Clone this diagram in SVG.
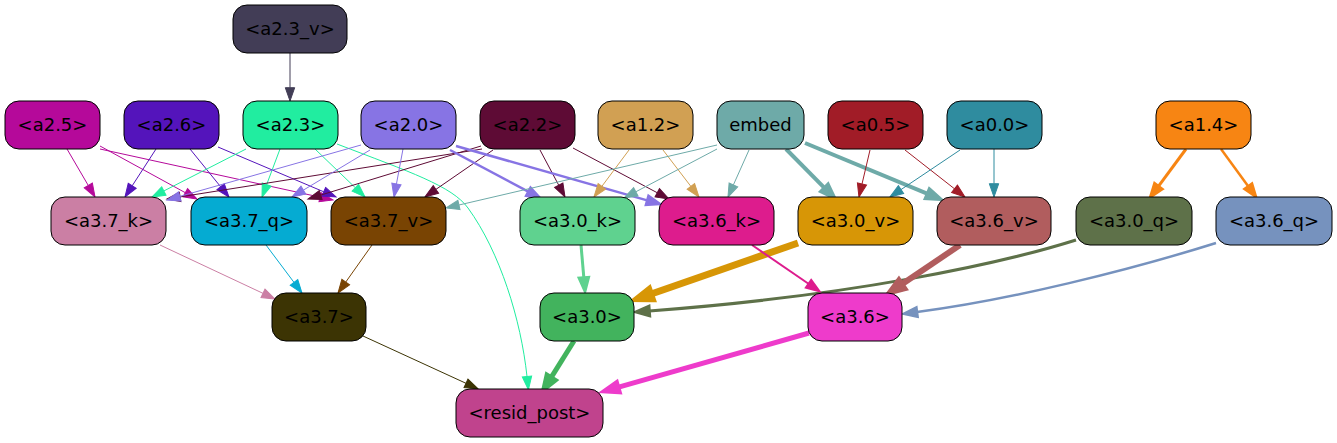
<svg xmlns="http://www.w3.org/2000/svg" width="1337" height="443" viewBox="0 0 1337 443">
<style>
.n rect{stroke:#000;stroke-width:1}
.n text{font-family:"DejaVu Sans","Liberation Sans",sans-serif;font-size:18px;text-anchor:middle;fill:#000}
.e path{fill:none}
</style>
<defs>
<marker id="m23v" markerUnits="userSpaceOnUse" orient="auto" refX="0" refY="4.7" markerWidth="14" markerHeight="10" overflow="visible"><path d="M0,0L13.3,4.7L0,9.4z" fill="#423d56" stroke="#423d56"/></marker>
<marker id="m25" markerUnits="userSpaceOnUse" orient="auto" refX="0" refY="4.7" markerWidth="14" markerHeight="10" overflow="visible"><path d="M0,0L13.3,4.7L0,9.4z" fill="#b5099a" stroke="#b5099a"/></marker>
<marker id="m26" markerUnits="userSpaceOnUse" orient="auto" refX="0" refY="4.7" markerWidth="14" markerHeight="10" overflow="visible"><path d="M0,0L13.3,4.7L0,9.4z" fill="#5414bb" stroke="#5414bb"/></marker>
<marker id="m23" markerUnits="userSpaceOnUse" orient="auto" refX="0" refY="4.7" markerWidth="14" markerHeight="10" overflow="visible"><path d="M0,0L13.3,4.7L0,9.4z" fill="#21eda0" stroke="#21eda0"/></marker>
<marker id="m22" markerUnits="userSpaceOnUse" orient="auto" refX="0" refY="4.7" markerWidth="14" markerHeight="10" overflow="visible"><path d="M0,0L13.3,4.7L0,9.4z" fill="#5e0b35" stroke="#5e0b35"/></marker>
<marker id="m20" markerUnits="userSpaceOnUse" orient="auto" refX="0" refY="4.7" markerWidth="14" markerHeight="10" overflow="visible"><path d="M0,0L13.3,4.7L0,9.4z" fill="#8774e4" stroke="#8774e4"/></marker>
<marker id="m20t" markerUnits="userSpaceOnUse" orient="auto" refX="0" refY="4.7" markerWidth="14" markerHeight="10" overflow="visible"><path d="M0,0L13.3,4.7L0,9.4z" fill="#8774e4" stroke="#8774e4" stroke-width="2.5"/></marker>
<marker id="m12" markerUnits="userSpaceOnUse" orient="auto" refX="0" refY="4.7" markerWidth="14" markerHeight="10" overflow="visible"><path d="M0,0L13.3,4.7L0,9.4z" fill="#d1a053" stroke="#d1a053"/></marker>
<marker id="mem" markerUnits="userSpaceOnUse" orient="auto" refX="0" refY="4.7" markerWidth="14" markerHeight="10" overflow="visible"><path d="M0,0L13.3,4.7L0,9.4z" fill="#6eaaa8" stroke="#6eaaa8"/></marker>
<marker id="memt" markerUnits="userSpaceOnUse" orient="auto" refX="0" refY="4.7" markerWidth="14" markerHeight="10" overflow="visible"><path d="M0,0L13.3,4.7L0,9.4z" fill="#6eaaa8" stroke="#6eaaa8" stroke-width="4"/></marker>
<marker id="m05" markerUnits="userSpaceOnUse" orient="auto" refX="0" refY="4.7" markerWidth="14" markerHeight="10" overflow="visible"><path d="M0,0L13.3,4.7L0,9.4z" fill="#a11c27" stroke="#a11c27"/></marker>
<marker id="m00" markerUnits="userSpaceOnUse" orient="auto" refX="0" refY="4.7" markerWidth="14" markerHeight="10" overflow="visible"><path d="M0,0L13.3,4.7L0,9.4z" fill="#2f8c9f" stroke="#2f8c9f"/></marker>
<marker id="m14a" markerUnits="userSpaceOnUse" orient="auto" refX="0" refY="4.7" markerWidth="14" markerHeight="10" overflow="visible"><path d="M0,0L13.3,4.7L0,9.4z" fill="#f78513" stroke="#f78513" stroke-width="3"/></marker>
<marker id="m14b" markerUnits="userSpaceOnUse" orient="auto" refX="0" refY="4.7" markerWidth="14" markerHeight="10" overflow="visible"><path d="M0,0L13.3,4.7L0,9.4z" fill="#f78513" stroke="#f78513" stroke-width="2.5"/></marker>
<marker id="m37k" markerUnits="userSpaceOnUse" orient="auto" refX="0" refY="4.7" markerWidth="14" markerHeight="10" overflow="visible"><path d="M0,0L13.3,4.7L0,9.4z" fill="#cb7fa4" stroke="#cb7fa4"/></marker>
<marker id="m37q" markerUnits="userSpaceOnUse" orient="auto" refX="0" refY="4.7" markerWidth="14" markerHeight="10" overflow="visible"><path d="M0,0L13.3,4.7L0,9.4z" fill="#05abd2" stroke="#05abd2"/></marker>
<marker id="m37v" markerUnits="userSpaceOnUse" orient="auto" refX="0" refY="4.7" markerWidth="14" markerHeight="10" overflow="visible"><path d="M0,0L13.3,4.7L0,9.4z" fill="#794403" stroke="#794403"/></marker>
<marker id="m30k" markerUnits="userSpaceOnUse" orient="auto" refX="0" refY="4.7" markerWidth="14" markerHeight="10" overflow="visible"><path d="M0,0L13.3,4.7L0,9.4z" fill="#5fd28f" stroke="#5fd28f" stroke-width="3"/></marker>
<marker id="m30v" markerUnits="userSpaceOnUse" orient="auto" refX="0" refY="4.7" markerWidth="14" markerHeight="10" overflow="visible"><path d="M0,0L13.3,4.7L0,9.4z" fill="#d79606" stroke="#d79606" stroke-width="7"/></marker>
<marker id="m30q" markerUnits="userSpaceOnUse" orient="auto" refX="0" refY="4.7" markerWidth="14" markerHeight="10" overflow="visible"><path d="M0,0L13.3,4.7L0,9.4z" fill="#5e7149" stroke="#5e7149" stroke-width="3"/></marker>
<marker id="m36k" markerUnits="userSpaceOnUse" orient="auto" refX="0" refY="4.7" markerWidth="14" markerHeight="10" overflow="visible"><path d="M0,0L13.3,4.7L0,9.4z" fill="#dd1c8d" stroke="#dd1c8d" stroke-width="2"/></marker>
<marker id="m36v" markerUnits="userSpaceOnUse" orient="auto" refX="0" refY="4.7" markerWidth="14" markerHeight="10" overflow="visible"><path d="M0,0L13.3,4.7L0,9.4z" fill="#b15d5e" stroke="#b15d5e" stroke-width="6"/></marker>
<marker id="m36q" markerUnits="userSpaceOnUse" orient="auto" refX="0" refY="4.7" markerWidth="14" markerHeight="10" overflow="visible"><path d="M0,0L13.3,4.7L0,9.4z" fill="#7692be" stroke="#7692be" stroke-width="2.5"/></marker>
<marker id="m37" markerUnits="userSpaceOnUse" orient="auto" refX="0" refY="4.7" markerWidth="14" markerHeight="10" overflow="visible"><path d="M0,0L13.3,4.7L0,9.4z" fill="#3c3404" stroke="#3c3404"/></marker>
<marker id="m30" markerUnits="userSpaceOnUse" orient="auto" refX="0" refY="4.7" markerWidth="14" markerHeight="10" overflow="visible"><path d="M0,0L13.3,4.7L0,9.4z" fill="#42b35d" stroke="#42b35d" stroke-width="5"/></marker>
<marker id="m36" markerUnits="userSpaceOnUse" orient="auto" refX="0" refY="4.7" markerWidth="14" markerHeight="10" overflow="visible"><path d="M0,0L13.3,4.7L0,9.4z" fill="#ee3bcb" stroke="#ee3bcb" stroke-width="5"/></marker>
</defs>
<rect width="1337" height="443" fill="#fff"/>
<g id="edges" class="e">
<path d="M290,53L290,87.7" stroke="#423d56" marker-end="url(#m23v)"/>
<path d="M67,149L88.3,185.5" stroke="#b5099a" marker-end="url(#m25)"/>
<path d="M100,146L185.3,192.7" stroke="#b5099a" marker-end="url(#m25)"/>
<path d="M100,149L320,197.15" stroke="#b5099a" marker-end="url(#m25)"/>
<path d="M156,149L132.2,185.8" stroke="#5414bb" marker-end="url(#m26)"/>
<path d="M190,149L220.6,186.7" stroke="#5414bb" marker-end="url(#m26)"/>
<path d="M218,147L323.75,191.8" stroke="#5414bb" marker-end="url(#m26)"/>
<path d="M246,149L163.85,190.95" stroke="#21eda0" marker-end="url(#m23)"/>
<path d="M280,149L266.67,184.55" stroke="#21eda0" marker-end="url(#m23)"/>
<path d="M315,149L355.4,187.8" stroke="#21eda0" marker-end="url(#m23)"/>
<path d="M337,144C410,172 452,186 468,208C500,252 521,320 527,376.5" stroke="#21eda0" marker-end="url(#m23)"/>
<path d="M482,149L180.1,196.9" stroke="#5e0b35" marker-end="url(#m22)"/>
<path d="M481,146L320.7,195.1" stroke="#5e0b35" marker-end="url(#m22)"/>
<path d="M493,150L435.9,189.4" stroke="#5e0b35" marker-end="url(#m22)"/>
<path d="M540,150L558.75,185.25" stroke="#5e0b35" marker-end="url(#m22)"/>
<path d="M573,148L657.25,192.76" stroke="#5e0b35" marker-end="url(#m22)"/>
<path d="M361,145L179.8,196.4" stroke="#8774e4" marker-end="url(#m20)"/>
<path d="M370,150L303.4,190.1" stroke="#8774e4" marker-end="url(#m20)"/>
<path d="M403,149L396.45,183.93" stroke="#8774e4" marker-end="url(#m20)"/>
<path d="M450,150L528.3,191.7" stroke="#8774e4" stroke-width="2.5" marker-end="url(#m20t)"/>
<path d="M456,146L647.2,200.4" stroke="#8774e4" stroke-width="2.5" marker-end="url(#m20t)"/>
<path d="M629,150L601.9,186.3" stroke="#d1a053" marker-end="url(#m12)"/>
<path d="M663,150L690.9,186.4" stroke="#d1a053" marker-end="url(#m12)"/>
<path d="M717,145L458.95,205" stroke="#6eaaa8" marker-end="url(#mem)"/>
<path d="M717,149L635.8,191.8" stroke="#6eaaa8" marker-end="url(#mem)"/>
<path d="M749,150L733.4,184.9" stroke="#6eaaa8" marker-end="url(#mem)"/>
<path d="M786,149L824.65,188.04" stroke="#6eaaa8" stroke-width="4" marker-end="url(#memt)"/>
<path d="M805,143L927.7,193.9" stroke="#6eaaa8" stroke-width="4" marker-end="url(#memt)"/>
<path d="M870,150L862,184" stroke="#a11c27" marker-end="url(#m05)"/>
<path d="M905,150L954.5,188.8" stroke="#a11c27" marker-end="url(#m05)"/>
<path d="M960,150L901,189.6" stroke="#2f8c9f" marker-end="url(#m00)"/>
<path d="M994,149L994,183.7" stroke="#2f8c9f" marker-end="url(#m00)"/>
<path d="M1186,149L1158.4,186.3" stroke="#f78513" stroke-width="3" marker-end="url(#m14a)"/>
<path d="M1221,149L1248.2,186.25" stroke="#f78513" stroke-width="2.5" marker-end="url(#m14b)"/>
<path d="M160,245L263,293.35" stroke="#cb7fa4" marker-end="url(#m37k)"/>
<path d="M266,245L294,282.4" stroke="#05abd2" marker-end="url(#m37q)"/>
<path d="M372,245L345.7,282.15" stroke="#794403" marker-end="url(#m37v)"/>
<path d="M581,245L583.84,277.75" stroke="#5fd28f" stroke-width="3" marker-end="url(#m30k)"/>
<path d="M798,243L650.5,294.2" stroke="#d79606" stroke-width="7" marker-end="url(#m30v)"/>
<path d="M1076,240C1000,264 850,296 649.3,311" stroke="#5e7149" stroke-width="3" marker-end="url(#m30q)"/>
<path d="M752,245L808.5,283.8" stroke="#dd1c8d" stroke-width="2" marker-end="url(#m36k)"/>
<path d="M960,245L901.5,284.5" stroke="#b15d5e" stroke-width="6" marker-end="url(#m36v)"/>
<path d="M1216,243C1130,270 1010,300 917,312" stroke="#7692be" stroke-width="2.5" marker-end="url(#m36q)"/>
<path d="M363,336L466,383.3" stroke="#3c3404" marker-end="url(#m37)"/>
<path d="M574,341L551.05,377.7" stroke="#42b35d" stroke-width="5" marker-end="url(#m30)"/>
<path d="M809,333L617.8,387.3" stroke="#ee3bcb" stroke-width="5" marker-end="url(#m36)"/>
</g>
<g id="a2.3_v" class="n"><rect x="233" y="5" width="114" height="48" rx="14" fill="#423d56"/><text x="290" y="35">&lt;a2.3_v&gt;</text></g>
<g id="a2.5" class="n"><rect x="5" y="101" width="95" height="48" rx="14" fill="#b5099a"/><text x="52.5" y="131">&lt;a2.5&gt;</text></g>
<g id="a2.6" class="n"><rect x="124" y="101" width="95" height="48" rx="14" fill="#5414bb"/><text x="171.5" y="131">&lt;a2.6&gt;</text></g>
<g id="a2.3" class="n"><rect x="243" y="101" width="95" height="48" rx="14" fill="#21eda0"/><text x="290.5" y="131">&lt;a2.3&gt;</text></g>
<g id="a2.0" class="n"><rect x="361" y="101" width="95" height="48" rx="14" fill="#8774e4"/><text x="408.5" y="131">&lt;a2.0&gt;</text></g>
<g id="a2.2" class="n"><rect x="480" y="101" width="95" height="48" rx="14" fill="#5e0b35"/><text x="527.5" y="131">&lt;a2.2&gt;</text></g>
<g id="a1.2" class="n"><rect x="598" y="101" width="95" height="48" rx="14" fill="#d1a053"/><text x="645.5" y="131">&lt;a1.2&gt;</text></g>
<g id="embed" class="n"><rect x="717" y="101" width="87" height="48" rx="14" fill="#6eaaa8"/><text x="760.5" y="131">embed</text></g>
<g id="a0.5" class="n"><rect x="828" y="101" width="95" height="48" rx="14" fill="#a11c27"/><text x="875.5" y="131">&lt;a0.5&gt;</text></g>
<g id="a0.0" class="n"><rect x="947" y="101" width="95" height="48" rx="14" fill="#2f8c9f"/><text x="994.5" y="131">&lt;a0.0&gt;</text></g>
<g id="a1.4" class="n"><rect x="1156" y="101" width="95" height="48" rx="14" fill="#f78513"/><text x="1203.5" y="131">&lt;a1.4&gt;</text></g>
<g id="a3.7_k" class="n"><rect x="51" y="197" width="115" height="48" rx="14" fill="#cb7fa4"/><text x="108.5" y="227">&lt;a3.7_k&gt;</text></g>
<g id="a3.7_q" class="n"><rect x="191" y="197" width="116" height="48" rx="14" fill="#05abd2"/><text x="249" y="227">&lt;a3.7_q&gt;</text></g>
<g id="a3.7_v" class="n"><rect x="331" y="197" width="115" height="48" rx="14" fill="#794403"/><text x="388.5" y="227">&lt;a3.7_v&gt;</text></g>
<g id="a3.0_k" class="n"><rect x="520" y="197" width="115" height="48" rx="14" fill="#5fd28f"/><text x="577.5" y="227">&lt;a3.0_k&gt;</text></g>
<g id="a3.6_k" class="n"><rect x="659" y="197" width="115" height="48" rx="14" fill="#dd1c8d"/><text x="716.5" y="227">&lt;a3.6_k&gt;</text></g>
<g id="a3.0_v" class="n"><rect x="798" y="197" width="115" height="48" rx="14" fill="#d79606"/><text x="855.5" y="227">&lt;a3.0_v&gt;</text></g>
<g id="a3.6_v" class="n"><rect x="937" y="197" width="114" height="48" rx="14" fill="#b15d5e"/><text x="994" y="227">&lt;a3.6_v&gt;</text></g>
<g id="a3.0_q" class="n"><rect x="1076" y="197" width="116" height="48" rx="14" fill="#5e7149"/><text x="1134" y="227">&lt;a3.0_q&gt;</text></g>
<g id="a3.6_q" class="n"><rect x="1216" y="197" width="116" height="48" rx="14" fill="#7692be"/><text x="1274" y="227">&lt;a3.6_q&gt;</text></g>
<g id="a3.7" class="n"><rect x="272" y="293" width="94" height="48" rx="14" fill="#3c3404"/><text x="319" y="323">&lt;a3.7&gt;</text></g>
<g id="a3.0" class="n"><rect x="540" y="293" width="94" height="48" rx="14" fill="#42b35d"/><text x="587" y="323">&lt;a3.0&gt;</text></g>
<g id="a3.6" class="n"><rect x="808" y="293" width="94" height="48" rx="14" fill="#ee3bcb"/><text x="855" y="323">&lt;a3.6&gt;</text></g>
<g id="resid_post" class="n"><rect x="456" y="389" width="147" height="48" rx="14" fill="#c0438d"/><text x="529.5" y="419">&lt;resid_post&gt;</text></g>
</svg>
